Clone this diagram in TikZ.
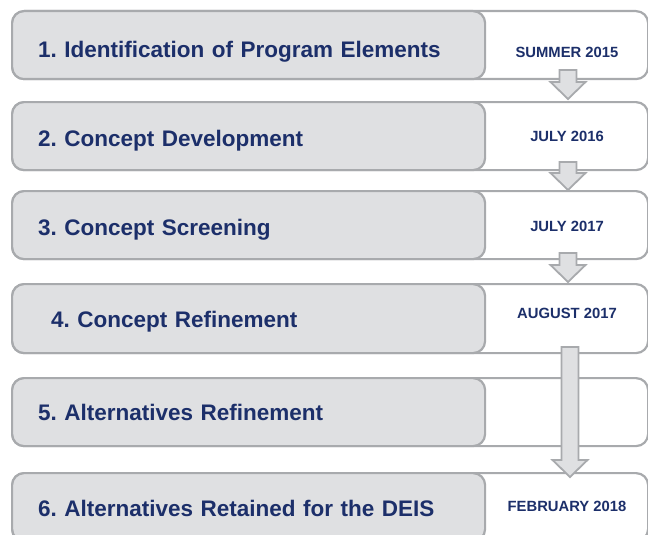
\documentclass[tikz,border=0pt]{standalone}
\usepackage{fontspec}
\setmainfont{Liberation Sans}
\usetikzlibrary{calc, positioning}
\definecolor{stepgray}{HTML}{DFE0E2}
\definecolor{stepline}{HTML}{A8AAAD}
\definecolor{stepnavy}{HTML}{1C2F6A}
\frenchspacing

\tikzset{
  outerbox/.style={draw=stepline, line width=2.2pt, rounded corners=12pt, fill=white,
    minimum width=636pt, minimum height=68pt, anchor=north west, inner sep=0pt},
  stepbox/.style={draw=stepline, line width=2.2pt, rounded corners=12pt, fill=stepgray,
    minimum width=473pt, minimum height=68pt, anchor=north west, inner xsep=26pt,
    text width=421pt, text height=22pt, text depth=2pt, align=left, text=stepnavy,
    font=\bfseries\fontsize{22.5}{26}\selectfont},
  datetext/.style={font=\bfseries\fontsize{14.8}{17}\selectfont, text=stepnavy},
  flowarrow/.style={draw=stepline, line width=1.8pt, fill=stepgray, line join=miter}
}

% block arrow from top of shaft (#1) down to tip (#2)
\newcommand{\blockarrow}[2]{%
  \draw[flowarrow] ($(#1)+(-8.5,0)$) -- ($(#1)+(8.5,0)$) -- ($(#2)+(8.5,-17)$)
    -- ($(#2)+(17.5,-17)$) -- (#2) -- ($(#2)+(-17.5,-17)$) -- ($(#2)+(-8.5,-17)$) -- cycle;}

\begin{document}
\begin{tikzpicture}[x=1pt, y=-1pt]
    \useasboundingbox (0,0) rectangle (648,535);
    \clip (0,0) rectangle (648,535);

    % white frames with the dates
    \node[outerbox] (d1) at (11, 10) {};
    \node[outerbox] (d2) at (11, 101) {};
    \node[outerbox] (d3) at (11, 190) {};
    \node[outerbox, minimum height=69pt] (d4) at (11, 283) {};
    \node[outerbox] (d5) at (11, 377) {};
    \node[outerbox] (d6) at (11, 472) {};

    % grey step boxes
    \node[stepbox, text height=26pt] (s1) at (11, 10) {1. Identification of Program Elements};
    \node[stepbox] (s2) at (11, 101) {2. Concept Development};
    \node[stepbox] (s3) at (11, 190) {3. Concept Screening};
    \node[stepbox, minimum height=69pt, text height=20pt] (s4) at (11, 283) {\hspace*{13pt}4. Concept Refinement};
    \node[stepbox, text height=18pt] (s5) at (11, 377) {5. Alternatives Refinement};
    \node[stepbox, text height=20pt] (s6) at (11, 472) {6. Alternatives Retained for the DEIS};

    \node[datetext] (t1) at (567, 52) {SUMMER 2015};
    \node[datetext] (t2) at (567, 136) {JULY 2016};
    \node[datetext] (t3) at (567, 226) {JULY 2017};
    \node[datetext] (t4) at (567, 313) {AUGUST 2017};
    \node[datetext] (t6) at (567, 506) {FEBRUARY 2018};

    % arrows between the steps
    \coordinate (a1) at (568, 70);  \coordinate (b1) at (568, 99);
    \coordinate (a2) at (568, 162); \coordinate (b2) at (568, 190);
    \coordinate (a3) at (568, 253); \coordinate (b3) at (568, 282);
    \coordinate (a4) at (570, 347); \coordinate (b4) at (570, 477);
    \blockarrow{a1}{b1}
    \blockarrow{a2}{b2}
    \blockarrow{a3}{b3}
    \blockarrow{a4}{b4}
\end{tikzpicture}
\end{document}
